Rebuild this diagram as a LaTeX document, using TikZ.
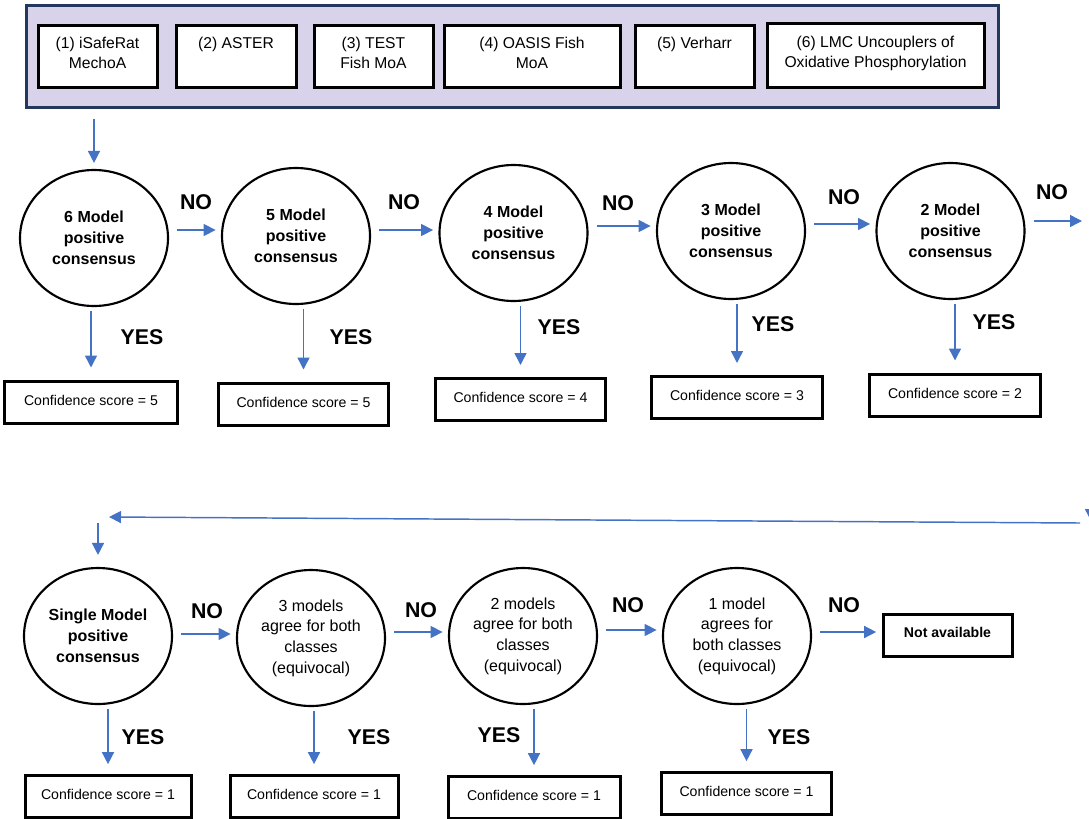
\documentclass[tikz,border=0pt]{standalone}
\usepackage{fontspec}
\setmainfont{Liberation Sans}
\usetikzlibrary{arrows.meta,shapes.geometric}

\definecolor{flowblue}{RGB}{68,114,196}
\definecolor{panelfill}{RGB}{216,211,234}
\definecolor{paneledge}{RGB}{36,56,94}

\tikzset{every picture/.style={line width=0.75pt}}
\tikzset{
  toolpanel/.style={draw=paneledge, line width=2.25pt, fill=panelfill, minimum width=729pt, minimum height=76.5pt, inner sep=0pt},
  modelbox/.style={draw, line width=2.25pt, fill=white, minimum height=46.5pt, inner sep=0pt, text depth=5pt, align=center, font=\fontsize{11.75}{15}\selectfont},
  consensus/.style={ellipse, draw, line width=1.6pt, minimum width=111pt, minimum height=102pt, inner sep=0pt, align=center, font=\bfseries\fontsize{12}{15.75}\selectfont},
  equivocal/.style={consensus, font=\fontsize{12}{15.5}\selectfont},
  scorebox/.style={draw, line width=2.25pt, minimum width=128pt, minimum height=31.5pt, inner sep=0pt, text depth=3pt, font=\fontsize{10.6}{13}\selectfont},
  nabox/.style={scorebox, minimum width=96.75pt, text depth=4pt, font=\bfseries\fontsize{10.6}{13}\selectfont},
  answer/.style={inner sep=0pt, font=\bfseries\fontsize{16}{19}\selectfont},
  flow/.style={draw=flowblue, line width=1.1pt, -{Triangle[width=9pt,length=9pt]}},
  onno/.style={flow, shorten <=6pt, shorten >=4pt},
  onyes/.style={flow, shorten <=3pt, shorten >=9pt}
}

\begin{document}
\begin{tikzpicture}[x=0.75pt,y=0.75pt,yscale=-1,xscale=1]
\useasboundingbox (0,0) rectangle (1089,818);

% the six models
\node[toolpanel] (tools) at (512,56) {};
\node[modelbox, minimum width=89.25pt] (isaferat) at (97.5,56) {(1) iSafeRat\\MechoA};
\node[modelbox, minimum width=90pt] (aster) at (236,56) {(2) ASTER\\~};
\node[modelbox, minimum width=89.25pt] (test) at (373.5,56) {(3) TEST\\Fish MoA};
\node[modelbox, minimum width=132pt] (oasis) at (532,56) {(4) OASIS Fish\\MoA};
\node[modelbox, minimum width=89.25pt] (verharr) at (694.5,56) {(5) Verharr\\~};
\node[modelbox, minimum width=162.75pt, minimum height=48pt] (lmc) at (875.5,55) {(6) LMC Uncouplers of\\Oxidative Phosphorylation};

% positive consensus, first row
\node[consensus] (m6) at (94,238) {6 Model\\positive\\consensus};
\node[consensus] (m5) at (296,236) {5 Model\\positive\\consensus};
\node[consensus] (m4) at (513.5,233) {4 Model\\positive\\consensus};
\node[consensus] (m3) at (731,231) {3 Model\\positive\\consensus};
\node[consensus] (m2) at (950.5,231) {2 Model\\positive\\consensus};

\node[scorebox, minimum width=129.75pt] (s6) at (91,402) {Confidence score = 5};
\node[scorebox] (s5) at (303.5,404) {Confidence score = 5};
\node[scorebox] (s4) at (520.5,399.5) {Confidence score = 4};
\node[scorebox] (s3) at (737,397.5) {Confidence score = 3};
\node[scorebox] (s2) at (955,395) {Confidence score = 2};

\node[answer] (no6) at (196,202) {NO};
\node[answer] (no5) at (404,202) {NO};
\node[answer] (no4) at (618,203) {NO};
\node[answer] (no3) at (844,197) {NO};
\node[answer] (no2) at (1052,192) {NO};
\node[answer] (yes6) at (142,337) {YES};
\node[answer] (yes5) at (351,337) {YES};
\node[answer] (yes4) at (559,327) {YES};
\node[answer] (yes3) at (773,324) {YES};
\node[answer] (yes2) at (994,322) {YES};

% second row: single model and equivocal
\node[consensus] (m1) at (98,636) {Single Model\\positive\\consensus};
\node[equivocal] (e3) at (311,638) {3 models\\agree for both\\classes\\(equivocal)};
\node[equivocal] (e2) at (523,636) {2 models\\agree for both\\classes\\(equivocal)};
\node[equivocal] (e1) at (737,636) {1 model\\agrees for\\both classes\\(equivocal)};
\node[nabox] (na) at (947.5,635) {Not available};

\node[scorebox, minimum width=124.5pt] (t1) at (108,796) {Confidence score = 1};
\node[scorebox, minimum width=126pt] (t3) at (314,796) {Confidence score = 1};
\node[scorebox, minimum width=129pt] (t2) at (534,797) {Confidence score = 1};
\node[scorebox] (t0) at (746.5,793) {Confidence score = 1};

\node[answer] (no1) at (207,611) {NO};
\node[answer] (noe3) at (421,610) {NO};
\node[answer] (noe2) at (628,605) {NO};
\node[answer] (noe1) at (844,605) {NO};
\node[answer] (yes1) at (143,737) {YES};
\node[answer] (yese3) at (369,737) {YES};
\node[answer] (yese2) at (499,735) {YES};
\node[answer] (yese1) at (789,737) {YES};

% free ends of the return path
\coordinate (rimR) at (1082,221);
\coordinate (railT) at (1091,300);
\coordinate (railB) at (1091,521);
\coordinate (backR) at (1080,523);
\coordinate (backL) at (109,517);
\coordinate (dropT) at (98,523);

% connectors
\draw[flow, shorten <=7.5pt, shorten >=4.5pt] (tools.south -| m6) -- (m6);

\draw[onno] (m6.east |- 0,230) -- (m5.west |- 0,230);
\draw[onno] (m5.east |- 0,230) -- (m4.west |- 0,230);
\draw[onno] (m4.east |- 0,226) -- (m3.west |- 0,226);
\draw[onno] (m3.east |- 0,224) -- (m2.west |- 0,224);
\draw[onno, shorten >=0pt] (m2.east |- 0,221) -- (rimR);

\draw[onyes] (s6.north |- m6.south) -- (s6);
\draw[onyes] (s5.north |- m5.south) -- (s5);
\draw[onyes] (s4.north |- m4.south) -- (s4);
\draw[onyes] (s3.north |- m3.south) -- (s3);
\draw[onyes] (s2.north |- m2.south) -- (s2);

\draw[flow] (railT) -- (railB);
\draw[flow] (backR) -- (backL);
\draw[flow, shorten >=9pt] (dropT) -- (m1);

\draw[onno] (m1.east |- 0,634) -- (e3.west |- 0,634);
\draw[onno] (e3.east |- 0,632) -- (e2.west |- 0,632);
\draw[onno] (e2.east |- 0,630) -- (e1.west |- 0,630);
\draw[onno] (e1.east |- 0,632) -- (na.west |- 0,632);

\draw[onyes, shorten >=7pt] (t1.north |- m1.south) -- (t1);
\draw[onyes, shorten >=7pt] (t3.north |- e3.south) -- (t3);
\draw[onyes, shorten >=7pt] (t2.north |- e2.south) -- (t2);
\draw[onyes, shorten >=7pt] (t0.north |- e1.south) -- (t0);

\end{tikzpicture}
\end{document}
